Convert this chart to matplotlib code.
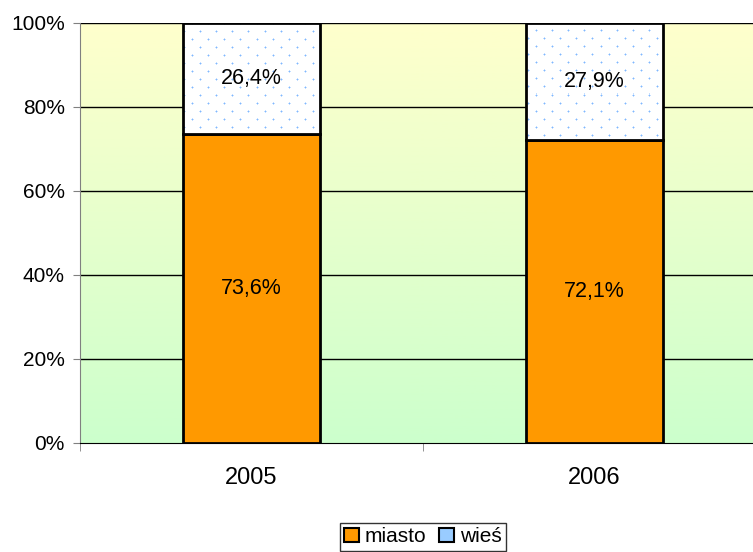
import numpy as np
import matplotlib
matplotlib.use('Agg')
import matplotlib.pyplot as plt
from matplotlib.patches import Patch

plt.rcParams['font.family'] = ['Liberation Sans', 'DejaVu Sans']

# dane
lata = ['2005', '2006']
miasto = [73.6, 72.1]
wies = [26.4, 27.9]
etykiety_miasto = ['73,6%', '72,1%']
etykiety_wies = ['26,4%', '27,9%']

W, H = 753, 552
fig = plt.figure(figsize=(W / 100, H / 100), dpi=100)
ax_box = [80, 109, W - 80, 420]  # w pikselach
ax = fig.add_axes([ax_box[0] / W, ax_box[1] / H, ax_box[2] / W, ax_box[3] / H])

xmin, xmax = -0.5, 1.5 - 13 / 343

# tlo z gradientem
grad = np.linspace(0, 1, 256).reshape(-1, 1)
cmap = matplotlib.colors.LinearSegmentedColormap.from_list('bg', ['#CCFFCC', '#FFFFCC'])
ax.imshow(grad, aspect='auto', cmap=cmap, origin='lower',
          extent=[xmin, xmax, 0, 100], zorder=0)

for y in [20, 40, 60, 80, 100]:
    ax.axhline(y, color='black', lw=1, zorder=1)

x = np.arange(len(lata))
w = 0.4
ax.bar(x, miasto, w, color='#FF9900', edgecolor='black', lw=2, zorder=3)
gora = ax.bar(x, wies, w, bottom=miasto, color='white', lw=0, zorder=3)

# tekstura kropek (wzor, nie dane)
pw, ph = ax_box[2], ax_box[3]
tex = np.zeros((ph, pw, 4))
rr, cc = np.mgrid[0:ph, 0:pw]
maska = ((rr % 8) == 0) & (((cc + (rr // 8 % 2) * 8) % 16) == 0)
tex[maska] = matplotlib.colors.to_rgba('#80B8FF')
for dr, dc in [(0, 1), (1, 0), (0, -1), (-1, 0)]:
    m2 = np.roll(np.roll(maska, dr, axis=0), dc, axis=1) & ~maska
    tex[m2] = matplotlib.colors.to_rgba('#C4DEFF')
for p in gora.patches:
    im = ax.imshow(tex, extent=[xmin, xmax, 0, 100], aspect='auto',
                   interpolation='nearest', zorder=3.5, origin='upper')
    im.set_clip_path(p)
ax.bar(x, wies, w, bottom=miasto, fill=False, edgecolor='black', lw=2, zorder=4)

for i in range(len(lata)):
    ax.text(x[i], miasto[i] / 2, etykiety_miasto[i], ha='center', va='center',
            fontsize=15.5, zorder=5)
    ax.text(x[i], miasto[i] + wies[i] / 2, etykiety_wies[i], ha='center', va='center',
            fontsize=15.5, zorder=5)

ax.set_yticks([0, 20, 40, 60, 80, 100])
ax.set_yticklabels(['0%', '20%', '40%', '60%', '80%', '100%'], fontsize=15)
ax.set_xticks([0, 1])
ax.set_xticklabels(lata, fontsize=17)
ax.set_xticks([-0.5, 0.5], minor=True)
ax.tick_params(axis='x', which='major', length=0, pad=17)
ax.tick_params(axis='x', which='minor', length=6, color='gray')
ax.tick_params(axis='y', length=5, color='gray', pad=6)

ax.set_xlim(xmin, xmax)
ax.set_ylim(0, 100)

ax.spines['top'].set_visible(False)
ax.spines['right'].set_visible(False)
ax.spines['left'].set_color('gray')
ax.spines['bottom'].set_color('black')

handles = [Patch(facecolor='#FF9900', edgecolor='black', lw=1.5),
           Patch(facecolor='#99CCFF', edgecolor='black', lw=1.5)]
leg = fig.legend(handles, ['miasto', 'wieś'], loc='center', bbox_to_anchor=(423 / W, 1 - 537 / H),
                 ncol=2, fontsize=15, frameon=True, fancybox=False, edgecolor='black',
                 handlelength=0.68, handleheight=0.68, handletextpad=0.3, columnspacing=0.62,
                 borderpad=0.2, borderaxespad=0)
leg.get_frame().set_linewidth(1)

fig.savefig('out.png', dpi=100)
